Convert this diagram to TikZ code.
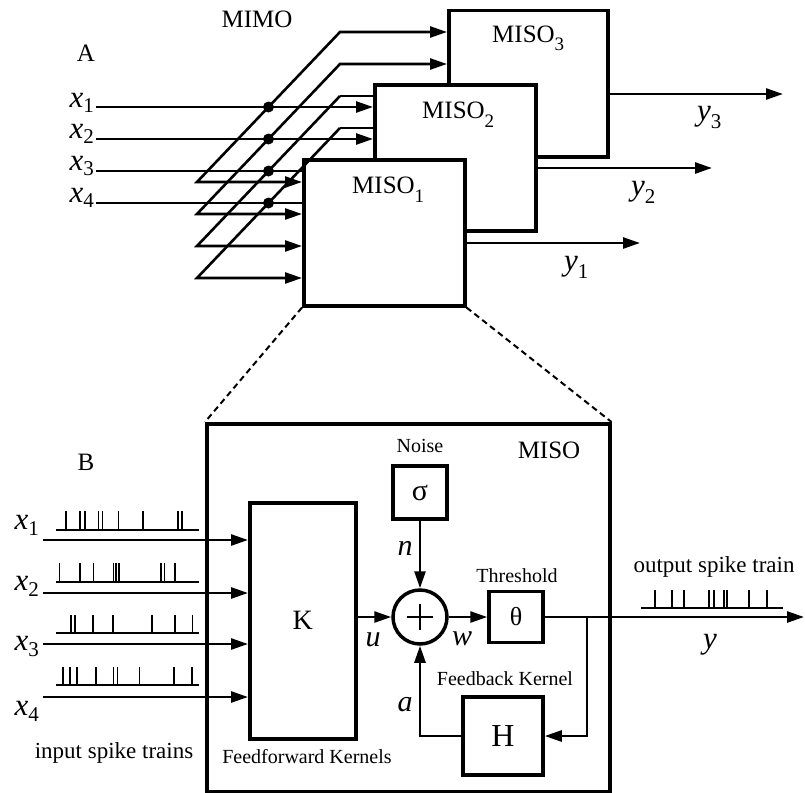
\documentclass[tikz,border=0pt]{standalone}
\usepackage{fontspec}
\setmainfont{Liberation Serif}
\usetikzlibrary{arrows.meta,calc}
\newcommand\fs[1]{\fontsize{#1}{#1}\selectfont}
\newcommand\lab[4]{{\fs{#1}\textit{#2}}\raisebox{-#4pt}{\fs{21}#3}}
\newcommand\misolab[1]{{\fs{25}MISO}\raisebox{-9pt}{\fs{19}#1}}
\begin{document}
\begin{tikzpicture}[x=1pt,y=-1pt,
  box/.style={draw, line width=3.5pt, fill=white, inner sep=0pt, anchor=north west},
  tip/.tip={Triangle[length=17pt,width=11pt]},
  arr/.style={line width=2.6pt, -tip, line join=miter},
  arr2/.style={line width=2.6pt, tip-tip, line join=miter},
  ln/.style={line width=2.6pt, line join=miter},
  txt/.style={inner sep=0pt, anchor=base},
  spk/.style={line width=1.6pt},
  spkbase/.style={line width=2pt},
  dsh/.style={line width=2pt, dash pattern=on 6pt off 4pt},
]
\useasboundingbox (0,0) rectangle (805,792);

% ---------------- Part A ----------------
\coordinate (t1) at (340,32);  \coordinate (b1) at (197,182);
\coordinate (t2) at (340,64);  \coordinate (b2) at (197,214);
\coordinate (t3) at (340,96);  \coordinate (b3) at (197,246);
\coordinate (t4) at (340,128); \coordinate (b4) at (197,278);
\coordinate (d1) at ($(b1)!0.5!(t1)$);
\coordinate (d2) at ($(b2)!0.5!(t2)$);
\coordinate (d3) at ($(b3)!0.5!(t3)$);
\coordinate (d4) at ($(b4)!0.5!(t4)$);
\coordinate (in1) at (96,107);
\coordinate (in2) at (96,139);
\coordinate (in3) at (96,171);
\coordinate (in4) at (96,203);

\node[box, minimum width=159pt, minimum height=146pt] (m3) at (447,9) {};
\node[box, minimum width=161pt, minimum height=146pt] (m2) at (373,83) {};
\draw[ln] (m2.west |- t3) -- (t3);
\draw[ln] (m2.west |- t4) -- (t4);
\draw[arr] (in1) -- (m2.west |- in1);
\draw[arr] (in2) -- (m2.west |- in2);
\node[box, minimum width=161pt, minimum height=146pt] (m1) at (302,158) {};
\draw[ln] (in3) -- (m1.west |- in3);
\draw[ln] (in4) -- (m1.west |- in4);
\draw[arr2] (m3.west |- t1) -- (t1) -- (b1) -- (m1.west |- b1);
\draw[arr2] (m3.west |- t2) -- (t2) -- (b2) -- (m1.west |- b2);
\draw[arr] (t3) -- (b3) -- (m1.west |- b3);
\draw[arr] (t4) -- (b4) -- (m1.west |- b4);
\foreach \d in {d1,d2,d3,d4} \fill (\d) circle[radius=5.5pt];

\node[txt, anchor=base west] (lm3) at (492,42) {\misolab{3}};
\node[txt, anchor=base west] (lm2) at (422,118) {\misolab{2}};
\node[txt, anchor=base west] (lm1) at (352,193) {\misolab{1}};

\node[txt] (lmimo) at (257,28) {\fs{25}MIMO};
\node[txt] (lA) at (86,61) {\fs{25}A};
\node[txt, anchor=base east] (lx1) at (94,107) {\lab{31}{x}{1}{5}};
\node[txt, anchor=base east] (lx2) at (94,138) {\lab{31}{x}{2}{5}};
\node[txt, anchor=base east] (lx3) at (94,170) {\lab{31}{x}{3}{5}};
\node[txt, anchor=base east] (lx4) at (94,202) {\lab{31}{x}{4}{5}};

\coordinate (y3e) at (783,94);
\coordinate (y2e) at (712,168);
\coordinate (y1e) at (640,243);
\draw[arr] (m3.east |- y3e) -- (y3e);
\draw[arr] (m2.east |- y2e) -- (y2e);
\draw[arr] (m1.east |- y1e) -- (y1e);
\node[txt, anchor=base west] (ly3) at (697,120) {\lab{31}{y}{3}{8}};
\node[txt, anchor=base west] (ly2) at (631,195) {\lab{31}{y}{2}{8}};
\node[txt, anchor=base west] (ly1) at (564,270) {\lab{31}{y}{1}{8}};

% ---------------- Part B ----------------
\node[box, fill=none, minimum width=403pt, minimum height=368pt] (B) at (205,422) {};
\draw[dsh] (m1.south west) -- (B.north west);
\draw[dsh] (m1.south east) -- (B.north east);
\node[txt] (lB) at (86,470) {\fs{25}B};
\node[txt] (lmiso) at (549,458) {\fs{25}MISO};

\node[box, minimum width=106pt, minimum height=236pt] (K) at (248,501) {\fs{28}K};
\node[box, anchor=center, minimum width=54pt, minimum height=53pt] (sig) at (420,492.5) {\fs{30}σ};
\node[draw, circle, line width=3.5pt, minimum size=54pt, inner sep=0pt] (sum) at (420,617) {};
\draw[line width=2pt] ($(sum.center)+(-13,0)$) -- ($(sum.center)+(13,0)$);
\draw[line width=2pt] ($(sum.center)+(0,-13)$) -- ($(sum.center)+(0,13)$);
\node[box, anchor=center, minimum width=54pt, minimum height=51pt] (th) at (516,617) {\fs{26}θ};
\node[box, anchor=center, minimum width=80pt, minimum height=78pt] (H) at (503,736) {\fs{32}H};

\node[txt] (lnoise) at (420,452) {\fs{20}Noise};
\node[txt] (lthr) at (517,582) {\fs{20}Threshold};
\node[txt] (lfb) at (505,685) {\fs{20}Feedback Kernel};
\node[txt] (lff) at (307,763) {\fs{20}Feedforward Kernels};
\node[txt] (lin) at (114,758) {\fs{23}input spike trains};
\node[txt] (lout) at (714,572) {\fs{23}output spike train};

\node[txt] (ln) at (405,555) {\fs{30}\textit{n}};
\node[txt] (lu) at (373,646) {\fs{30}\textit{u}};
\node[txt] (lw) at (462,645) {\fs{30}\textit{w}};
\node[txt] (la) at (405,711) {\fs{30}\textit{a}};
\node[txt, anchor=base west] (ly) at (703,648) {\fs{31}\textit{y}};

\draw[arr] (sig.south) -- (sum.north);
\draw[arr] (K.east |- sum.west) -- (sum.west);
\draw[arr] (sum.east) -- (th.west);
\coordinate (yout) at (804,617);
\coordinate (fb) at (587,617);
\draw[arr] (th.east) -- (yout);
\draw[arr] (fb) |- (H.east);
\draw[arr] (H.west) -| (sum.south);

\coordinate (i1) at (43,540);
\coordinate (i2) at (43,593);
\coordinate (i3) at (43,644);
\coordinate (i4) at (43,697);
\foreach \i in {i1,i2,i3,i4} \draw[arr] (\i) -- (K.west |- \i);
\node[txt, anchor=base east] (bx1) at (39,529) {\lab{31}{x}{1}{6}};
\node[txt, anchor=base east] (bx2) at (39,590) {\lab{31}{x}{2}{6}};
\node[txt, anchor=base east] (bx3) at (39,650) {\lab{31}{x}{3}{6}};
\node[txt, anchor=base east] (bx4) at (39,715) {\lab{31}{x}{4}{6}};

% spike trains
\draw[spkbase] (56,530) -- (199,530);
\foreach \p in {65.7,80,85,98.3,102.3,118.3,142.7,177.7,181.7} \draw[spk] (\p,530) -- (\p,511);
\draw[spkbase] (56,582) -- (199,582);
\foreach \p in {59.3,80,93.3,113.3,115.7,118.7,161,164.3,175} \draw[spk] (\p,582) -- (\p,563);
\draw[spkbase] (56,633) -- (199,633);
\foreach \p in {71,75,92.7,112.7,151.7,175,192.3} \draw[spk] (\p,633) -- (\p,615);
\draw[spkbase] (56,685) -- (199,685);
\foreach \p in {62.7,70,76.7,96,113.3,117.3,139.3,174,191.7} \draw[spk] (\p,685) -- (\p,667);
\draw[spkbase] (641,608) -- (783,608);
\foreach \p in {655,672,684,709,714,724,727,749,767} \draw[spk] (\p,608) -- (\p,590);
\end{tikzpicture}
\end{document}
